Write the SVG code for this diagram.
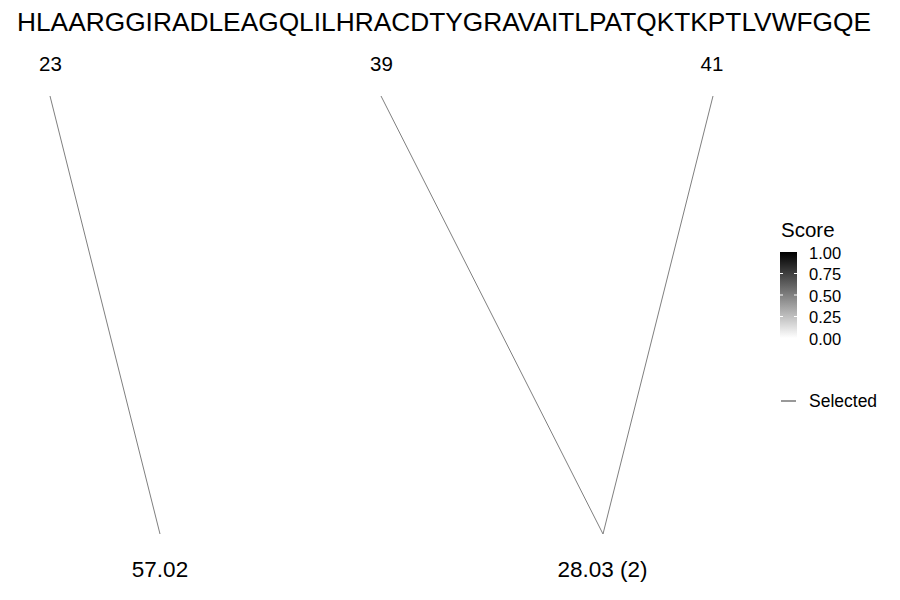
<svg xmlns="http://www.w3.org/2000/svg" width="900" height="600" viewBox="0 0 900 600">
<style>
text{font-family:"Liberation Sans",Arial,sans-serif;fill:#000}
.pos{font-size:20.5px;text-anchor:middle}
.lbl{font-size:22.5px;text-anchor:middle}
.tick{font-size:16.5px}
.conn{stroke:#7f7f7f;stroke-width:1;fill:none}
</style>
<defs>
<linearGradient id="g" x1="0" y1="0" x2="0" y2="1">
<stop offset="0" stop-color="#000"/>
<stop offset="1" stop-color="#fff"/>
</linearGradient>
</defs>
<rect width="900" height="600" fill="#fff"/>
<g id="sequence"><text x="17" y="31" font-size="25" textLength="854" lengthAdjust="spacingAndGlyphs">HLAARGGIRADLEAGQLILHRACDTYGRAVAITLPATQKTKPTLVWFGQE</text></g>
<g id="site23"><text class="pos" x="50.5" y="71">23</text></g>
<g id="site39"><text class="pos" x="381.5" y="71">39</text></g>
<g id="site41"><text class="pos" x="712" y="71">41</text></g>
<g id="mass1"><text class="lbl" x="160" y="577">57.02</text></g>
<g id="mass2"><text class="lbl" x="602.5" y="577">28.03 (2)</text></g>
<g id="connectors">
<line class="conn" x1="50" y1="96" x2="160" y2="534"/>
<line class="conn" x1="381" y1="96" x2="603" y2="534"/>
<line class="conn" x1="713" y1="96" x2="603" y2="534"/>
</g>
<g id="legend">
<text x="781" y="237" font-size="20.5">Score</text>
<rect x="780" y="252" width="17" height="86" fill="url(#g)"/>
<g stroke="#fff" stroke-width="1">
<line x1="780" y1="273.5" x2="783" y2="273.5"/><line x1="794" y1="273.5" x2="797" y2="273.5"/>
<line x1="780" y1="295" x2="783" y2="295"/><line x1="794" y1="295" x2="797" y2="295"/>
<line x1="780" y1="316.5" x2="783" y2="316.5"/><line x1="794" y1="316.5" x2="797" y2="316.5"/>
</g>
<text class="tick" x="809" y="259">1.00</text>
<text class="tick" x="809" y="280">0.75</text>
<text class="tick" x="809" y="301.5">0.50</text>
<text class="tick" x="809" y="323">0.25</text>
<text class="tick" x="809" y="344.5">0.00</text>
<line x1="781" y1="401" x2="796" y2="401" stroke="#555" stroke-width="1.2"/>
<text x="809" y="407" font-size="17.5">Selected</text>
</g>
</svg>
